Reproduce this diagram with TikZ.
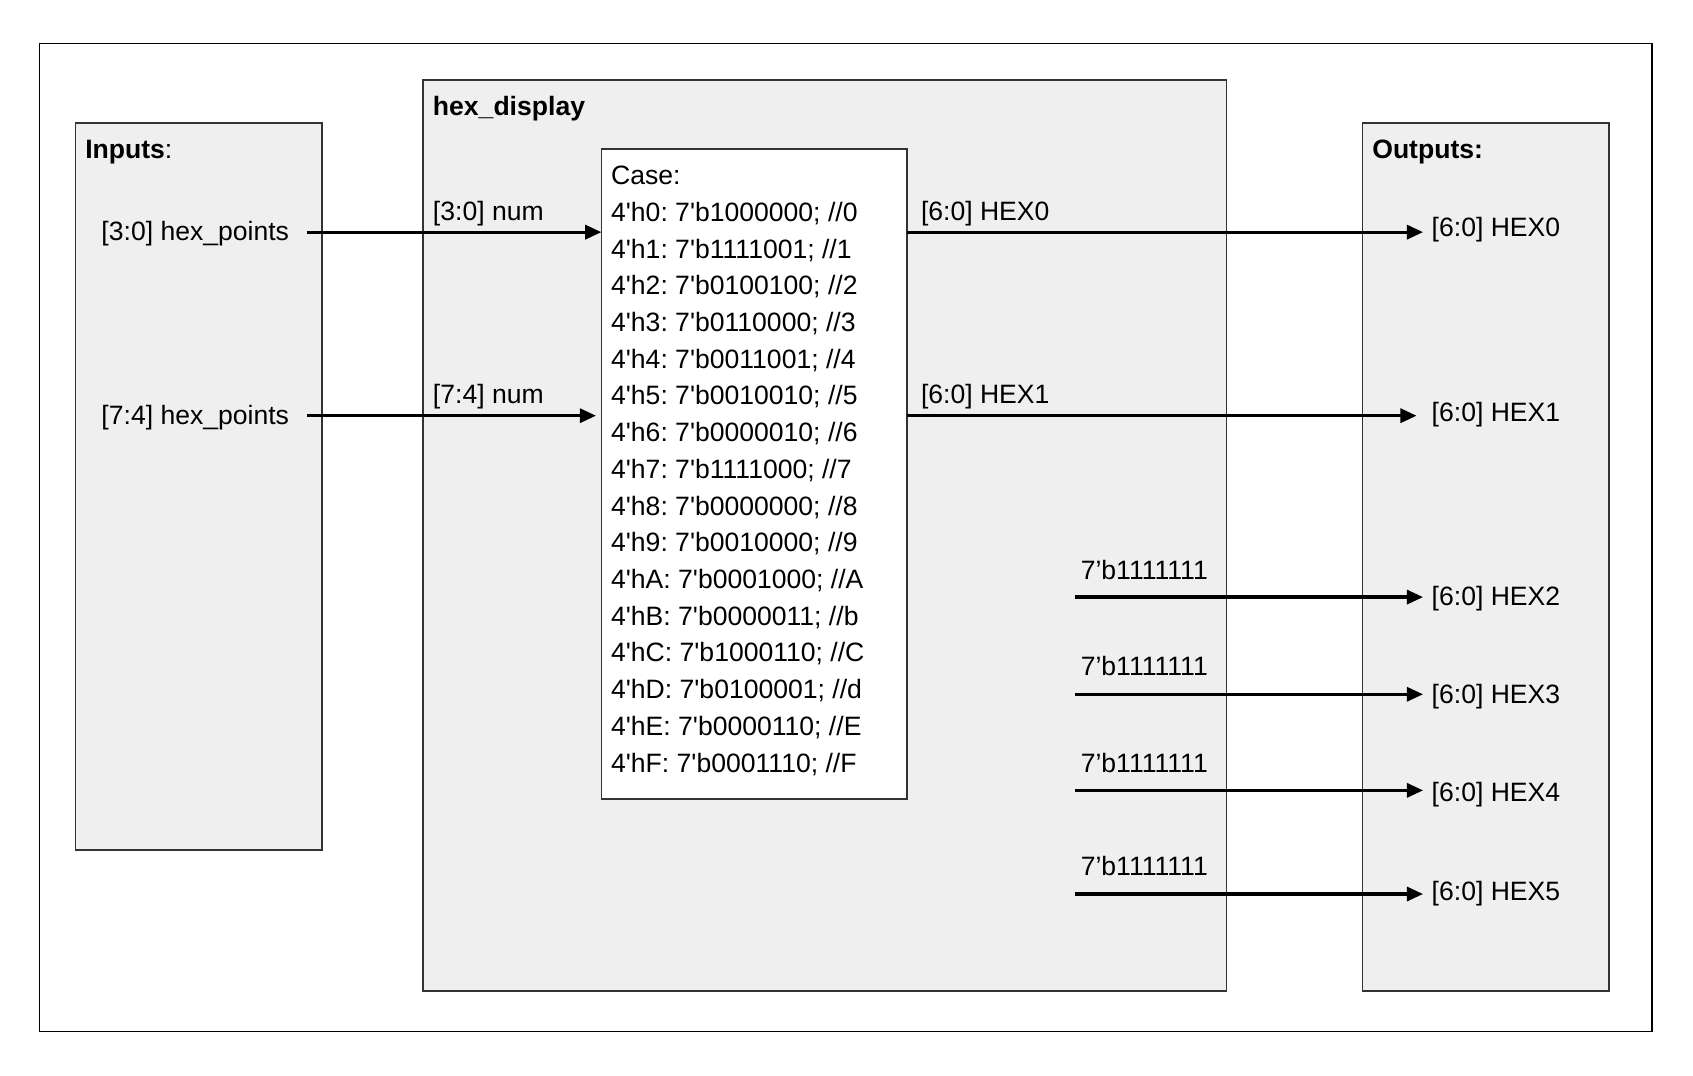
\documentclass[tikz,border=0pt]{standalone}
\usepackage{fontspec}
\setmainfont{Liberation Sans}
\usetikzlibrary{arrows.meta}
\definecolor{boxfill}{HTML}{EFEFEF}
\definecolor{boxline}{HTML}{333333}
\newcommand{\sq}{\textquotesingle}
\tikzset{
  panel/.style={draw=boxline, line width=0.8pt, fill=boxfill, inner sep=0pt, outer sep=0pt, anchor=north west},
  casebox/.style={draw=boxline, line width=0.8pt, fill=white, inner sep=0pt, outer sep=0pt, anchor=north west},
  lbl/.style={inner sep=0pt, outer sep=0pt, anchor=base west, font=\fontsize{12.3pt}{17pt}\selectfont\frenchspacing},
  ttl/.style={lbl, font=\fontsize{12.3pt}{17pt}\selectfont\bfseries},
  wire/.style={line width=1.5pt, -{Triangle[length=7.5pt,width=6.5pt]}},
}
\begin{document}
\begin{tikzpicture}[x=0.5pt,y=-0.5pt]
\useasboundingbox (0,0) rectangle (1568,996);
% outer frame
\node[draw=black, line width=0.5pt, inner sep=0pt, outer sep=0pt, anchor=north west, minimum width=746.5pt, minimum height=457.5pt] (frame) at (37,40) {};
% panels
\node[panel, minimum width=114pt, minimum height=336.5pt] (inputs) at (70,114) {};
\node[panel, minimum width=372pt, minimum height=422pt] (hexdisp) at (392,74) {};
\node[casebox, minimum width=141.5pt, minimum height=301pt] (case) at (557,138) {};
\node[panel, minimum width=114pt, minimum height=402pt] (outputs) at (1262,114) {};
% titles
\node[lbl] (tin) at (79,147) {\textbf{Inputs}:};
\node[ttl] (thd) at (401,107) {hex\_display};
\node[ttl] (tout) at (1271,147) {Outputs:};
% case lines
\node[lbl] (c0) at (566,171) {Case:};
\node[lbl] (c1) at (566,205) {4\sq h0: 7\sq b1000000; //0};
\node[lbl] (c2) at (566,239) {4\sq h1: 7\sq b1111001; //1};
\node[lbl] (c3) at (566,273) {4\sq h2: 7\sq b0100100; //2};
\node[lbl] (c4) at (566,307) {4\sq h3: 7\sq b0110000; //3};
\node[lbl] (c5) at (566,341) {4\sq h4: 7\sq b0011001; //4};
\node[lbl] (c6) at (566,375) {4\sq h5: 7\sq b0010010; //5};
\node[lbl] (c7) at (566,409) {4\sq h6: 7\sq b0000010; //6};
\node[lbl] (c8) at (566,443) {4\sq h7: 7\sq b1111000; //7};
\node[lbl] (c9) at (566,477) {4\sq h8: 7\sq b0000000; //8};
\node[lbl] (c10) at (566,511) {4\sq h9: 7\sq b0010000; //9};
\node[lbl] (c11) at (566,545) {4\sq hA: 7\sq b0001000; //A};
\node[lbl] (c12) at (566,579) {4\sq hB: 7\sq b0000011; //b};
\node[lbl] (c13) at (566,613) {4\sq hC: 7\sq b1000110; //C};
\node[lbl] (c14) at (566,647) {4\sq hD: 7\sq b0100001; //d};
\node[lbl] (c15) at (566,681) {4\sq hE: 7\sq b0000110; //E};
\node[lbl] (c16) at (566,715) {4\sq hF: 7\sq b0001110; //F};
% input labels
\node[lbl] (in1) at (94,223) {[3:0] hex\_points};
\node[lbl] (in2) at (94,393) {[7:4] hex\_points};
\node[lbl] (n1) at (401,204) {[3:0] num};
\node[lbl] (n2) at (401,374) {[7:4] num};
% internal labels
\node[lbl] (h0) at (853,204) {[6:0] HEX0};
\node[lbl] (h1) at (853,374) {[6:0] HEX1};
\node[lbl] (k2) at (1001,537) {7’b1111111};
\node[lbl] (k3) at (1001,626) {7’b1111111};
\node[lbl] (k4) at (1001,715) {7’b1111111};
\node[lbl] (k5) at (1001,811) {7’b1111111};
% output labels
\node[lbl] (o0) at (1326,219) {[6:0] HEX0};
\node[lbl] (o1) at (1326,390) {[6:0] HEX1};
\node[lbl] (o2) at (1326,561) {[6:0] HEX2};
\node[lbl] (o3) at (1326,652) {[6:0] HEX3};
\node[lbl] (o4) at (1326,742) {[6:0] HEX4};
\node[lbl] (o5) at (1326,834) {[6:0] HEX5};
% wire end points
\coordinate (a1s) at (284,215);
\coordinate (a2s) at (284,385);
\coordinate (a2e) at (552,385);
\coordinate (e0) at (1318,215);
\coordinate (e1) at (1312,385);
\coordinate (s2) at (996,553);  \coordinate (e2) at (1318,553);
\coordinate (s3) at (996,643);  \coordinate (e3) at (1318,643);
\coordinate (s4) at (996,732);  \coordinate (e4) at (1318,732);
\coordinate (s5) at (996,828);  \coordinate (e5) at (1318,828);
% wires
\draw[wire] (a1s) -- (case.west |- a1s);
\draw[wire] (a2s) -- (a2e);
\draw[wire] (case.east |- e0) -- (e0);
\draw[wire] (case.east |- e1) -- (e1);
\draw[wire] (s2) -- (e2);
\draw[wire] (s3) -- (e3);
\draw[wire] (s4) -- (e4);
\draw[wire] (s5) -- (e5);
\end{tikzpicture}
\end{document}
